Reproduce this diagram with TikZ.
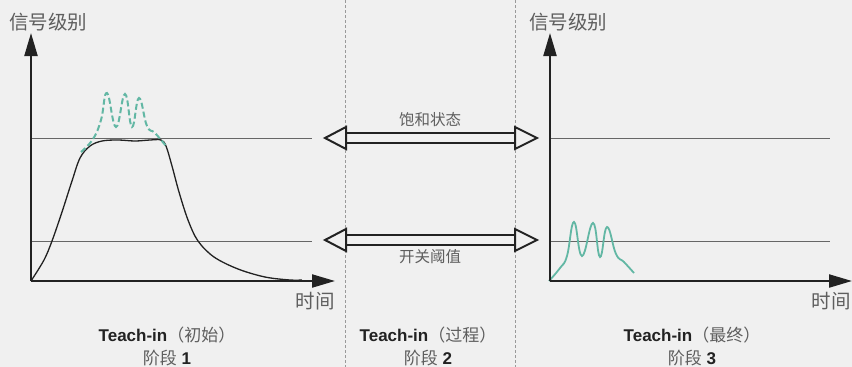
\documentclass[tikz,border=0pt]{standalone}
\usepackage{fontspec}
\setmainfont{Liberation Sans}
\newfontfamily\cjk{Noto Sans CJK SC}
\usetikzlibrary{arrows.meta,calc}
\definecolor{bgc}{HTML}{F0F0F0}
\definecolor{ink}{HTML}{222222}
\definecolor{txt}{HTML}{5E5E5E}
\definecolor{tealc}{HTML}{62B7A4}
\definecolor{lvl}{HTML}{666666}
\definecolor{sepc}{HTML}{9A9A9A}
\tikzset{
  axisline/.style={line width=2.2pt, draw=ink, -{Triangle[length=23pt,width=13pt]}},
  lvlline/.style={line width=1pt, draw=lvl},
  sepline/.style={line width=0.9pt, draw=sepc, dash pattern=on 3pt off 2pt},
  rail/.style={line width=2.2pt, draw=ink},
  headshape/.style={line width=2pt, draw=ink, fill=bgc, line join=miter},
  cjklabel/.style={inner sep=0pt, text=txt, font=\cjk\fontsize{19.5}{19.5}\selectfont},
  midlabel/.style={inner sep=0pt, text=txt, font=\cjk\fontsize{15.5}{15.5}\selectfont},
  stagelabel/.style={inner sep=0pt, align=center, font=\fontsize{17}{23}\selectfont},
  curve/.style={line width=1.3pt, draw=ink},
  tealdash/.style={line width=2pt, draw=tealc, dash pattern=on 6pt off 3pt},
  tealsolid/.style={line width=1.8pt, draw=tealc},
}
\begin{document}
\begin{tikzpicture}[x=1pt,y=-1pt]
\fill[bgc] (0,0) rectangle (852,367);
\useasboundingbox (0,0) rectangle (852,367);

% separators
\coordinate (s1t) at (345,0); \coordinate (s1b) at (345,367);
\coordinate (s2t) at (515,0); \coordinate (s2b) at (515,367);
\draw[sepline] (s1t) -- (s1b);
\draw[sepline] (s2t) -- (s2b);

% left chart
\coordinate (o1) at (31,281);
\coordinate (y1) at (31,33);
\coordinate (x1) at (335,281);
\coordinate (sat1a) at (31,138); \coordinate (sat1b) at (312,138);
\coordinate (thr1a) at (31,241); \coordinate (thr1b) at (312,241);
\draw[lvlline] (sat1a) -- (sat1b);
\draw[lvlline] (thr1a) -- (thr1b);

\draw[curve] plot[smooth, tension=0.55] coordinates {
 (31,281) (44,260) (52,241) (62,212) (72,181) (80,158) (90,146) (102,141)
 (118,140) (135,141) (150,140) (161,140) (166,146) (172,166) (179,192)
 (188,220) (198,241) (214,257) (238,269) (265,277) (290,280) (302,280)};

\draw[tealdash] plot[smooth, tension=0.75] coordinates {
 (81,152) (93,139) (101,120) (107,93) (116,127) (125,94) (132,127)
 (139,98) (147,126) (155,133) (166,146)};

\draw[axisline] (o1) -- (y1);
\draw[axisline] (o1) -- (x1);
\node[cjklabel, anchor=west] (ylab1) at (9,22) {信号级别};
\node[cjklabel, anchor=east] (xlab1) at (335,301) {时间};

% right chart
\coordinate (o3) at (550,281);
\coordinate (y3) at (550,33);
\coordinate (x3) at (852,281);
\coordinate (sat3a) at (550,138); \coordinate (sat3b) at (830,138);
\coordinate (thr3a) at (550,241); \coordinate (thr3b) at (830,241);
\draw[lvlline] (sat3a) -- (sat3b);
\draw[lvlline] (thr3a) -- (thr3b);

\draw[tealsolid] plot[smooth, tension=0.75] coordinates {
 (549,281) (560,268) (567,256) (574,222) (582,256) (593,223) (600,257)
 (607,227) (616,254) (624,262) (634,273)};

\draw[axisline] (o3) -- (y3);
\draw[axisline] (o3) -- (x3);
\node[cjklabel, anchor=west] (ylab3) at (529,22) {信号级别};
\node[cjklabel, anchor=east] (xlab3) at (851,301) {时间};

% double arrows
\coordinate (aL) at (325,138); \coordinate (aR) at (537,138);
\coordinate (bL) at (325,240); \coordinate (bR) at (537,240);
\foreach \l/\r in {aL/aR, bL/bR}{
  \draw[rail] ($(\l)+(21,-5)$) -- ($(\r)+(-22,-5)$);
  \draw[rail] ($(\l)+(21,5)$) -- ($(\r)+(-22,5)$);
  \draw[headshape] (\l) -- ++(21,-11) -- ++(0,22) -- cycle;
  \draw[headshape] (\r) -- ++(-22,-11) -- ++(0,22) -- cycle;
}
\node[midlabel] (satlab) at (430,120) {饱和状态};
\node[midlabel] (thrlab) at (430,257) {开关阈值};

% stage labels
\node[stagelabel] (st1) at (167,346) {\textbf{\textcolor{ink}{Teach-in}}{\cjk\textcolor{txt}{（初始）}}\\{\cjk\textcolor{txt}{阶段}} \textbf{\textcolor{ink}{1}}};
\node[stagelabel] (st2) at (428,346) {\textbf{\textcolor{ink}{Teach-in}}{\cjk\textcolor{txt}{（过程）}}\\{\cjk\textcolor{txt}{阶段}} \textbf{\textcolor{ink}{2}}};
\node[stagelabel] (st3) at (692,346) {\textbf{\textcolor{ink}{Teach-in}}{\cjk\textcolor{txt}{（最终）}}\\{\cjk\textcolor{txt}{阶段}} \textbf{\textcolor{ink}{3}}};
\end{tikzpicture}
\end{document}
